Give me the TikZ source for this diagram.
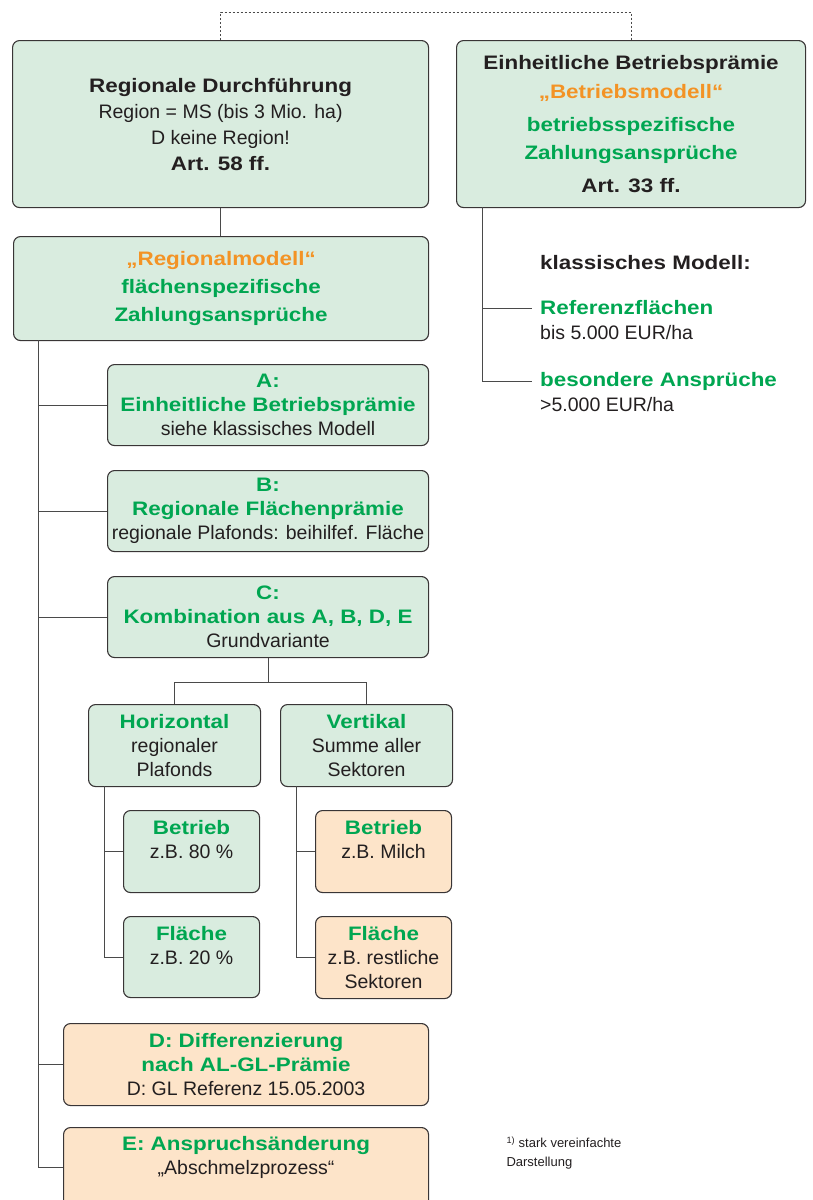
\documentclass[tikz,border=0pt]{standalone}
\usepackage{fontspec}
\setmainfont{Liberation Sans}[BoldFeatures={FakeStretch=1.15}]
\usepackage{tikz}
\usetikzlibrary{positioning}

\definecolor{boxgreen}{HTML}{D9ECDF}
\definecolor{boxorange}{HTML}{FDE4C9}
\definecolor{txtgreen}{HTML}{00A651}
\definecolor{txtorange}{HTML}{F39325}
\definecolor{txtblack}{HTML}{231F20}
\definecolor{linegray}{HTML}{4A4A4A}

\newcommand{\grn}[1]{\textcolor{txtgreen}{\bfseries #1}}
\newcommand{\orn}[1]{\textcolor{txtorange}{\bfseries #1}}

\begin{document}
\begin{tikzpicture}[x=1pt, y=-1pt,
    every node/.style={font=\fontsize{19.5}{24}\selectfont, text=txtblack},
    gbox/.style={draw=txtblack!90, line width=1.1pt, rounded corners=7pt,
                 fill=boxgreen, align=center, inner sep=0pt, anchor=north west},
    obox/.style={gbox, fill=boxorange},
    note/.style={anchor=west, inner xsep=8pt, inner ysep=0pt, align=left},
    conn/.style={draw=linegray, line width=1pt}]
    \useasboundingbox (0,0) rectangle (812,1200);% page = reference frame

    % top row
    \node[gbox, minimum width=416, minimum height=167] (R) at (12,40)
        {\textbf{Regionale Durchführung}\\[2pt] Region = MS (bis 3 Mio. ha)\\[2pt]
         D keine Region!\\[2pt] \textbf{Art. 58 ff.}};
    \node[gbox, minimum width=349, minimum height=167] (EB) at (456,40)
        {\textbf{Einheitliche Betriebsprämie}\\[5pt] \orn{„Betriebsmodell“}\\[9pt]
         \grn{betriebsspezifische}\\[4pt] \grn{Zahlungsansprüche}\\[9pt] \textbf{Art. 33 ff.}};
    \draw[conn, line width=0.8pt, dash pattern=on 2pt off 2pt]
        (R.north) -- ++(0,-28) -| (EB.north);% dashed bracket

    % classic model, right side
    \coordinate (t0) at (482,207);
    \node[note] (km)  at (532,263) {\textbf{klassisches Modell:}};
    \node[note] (rf)  at (532,308) {\grn{Referenzflächen}};
    \node[note] (rfs) at (532,333) {bis 5.000 EUR/ha};
    \node[note] (ba)  at (532,381) {\grn{besondere Ansprüche}};
    \node[note] (bas) at (532,405) {>5.000 EUR/ha};
    \draw[conn] (t0) |- (ba.west);
    \draw[conn] (t0 |- rf.west) -- (rf.west);

    % regional model, left side
    \node[gbox, minimum width=415, minimum height=104] (RM) at (13,236)
        {\orn{„Regionalmodell“}\\[4pt] \grn{flächenspezifische}\\[4pt] \grn{Zahlungsansprüche}};
    \draw[conn] (R.south) -- (R.south |- RM.north);

    \node[gbox, minimum width=321, minimum height=81] (A) at (107,364)
        {\grn{A:}\\ \grn{Einheitliche Betriebsprämie}\\ siehe klassisches Modell};
    \node[gbox, minimum width=321, minimum height=81] (B) at (107,470)
        {\grn{B:}\\ \grn{Regionale Flächenprämie}\\ regionale Plafonds: beihilfef. Fläche};
    \node[gbox, minimum width=321, minimum height=81] (C) at (107,576)
        {\grn{C:}\\ \grn{Kombination aus A, B, D, E}\\ Grundvariante};

    % variants of C
    \node[gbox, minimum width=172, minimum height=82] (H) at (88,704)
        {\grn{Horizontal}\\ regionaler\\ Plafonds};
    \node[gbox, minimum width=172, minimum height=82] (V) at (280,704)
        {\grn{Vertikal}\\ Summe aller\\ Sektoren};
    \draw[conn] (C.south) -- ++(0,24) coordinate (cv);
    \draw[conn] (H.north) |- (cv) -| (V.north);

    \node[gbox, minimum width=136, minimum height=82] (HB) at (123,810)
        {\grn{Betrieb}\\ z.B. 80 \%\\ ~};
    \node[gbox, minimum width=136, minimum height=81] (HF) at (123,916)
        {\grn{Fläche}\\ z.B. 20 \%\\ ~};
    \node[obox, minimum width=136, minimum height=82] (VB) at (315,810)
        {\grn{Betrieb}\\ z.B. Milch\\ ~};
    \node[obox, minimum width=136, minimum height=82] (VF) at (315,916)
        {\grn{Fläche}\\ z.B. restliche\\ Sektoren};
    \coordinate (h0) at (104,786);
    \coordinate (v0) at (296,786);
    \draw[conn] (h0) |- (HF.west);
    \draw[conn] (h0 |- HB.west) -- (HB.west);
    \draw[conn] (v0) |- (VF.west);
    \draw[conn] (v0 |- VB.west) -- (VB.west);

    \node[obox, minimum width=365, minimum height=82] (D) at (63,1023)
        {\grn{D: Differenzierung}\\ \grn{nach AL-GL-Prämie}\\ D: GL Referenz 15.05.2003};
    \node[obox, minimum width=365, minimum height=80] (E) at (63,1127)
        {\grn{E: Anspruchsänderung}\\ „Abschmelzprozess“\\ ~};

    % trunk of the regional model
    \coordinate (lt) at (38,340);
    \draw[conn] (lt) |- (E.west);
    \foreach \n in {A,B,C,D}{% one branch per variant
      \draw[conn] (lt |- \n.west) -- (\n.west);
    }

    \node[anchor=north west, align=left, font=\fontsize{13}{19}\selectfont] (fn) at (503,1133)
        {\textsuperscript{1)} stark vereinfachte\\ Darstellung};
\end{tikzpicture}
\end{document}
